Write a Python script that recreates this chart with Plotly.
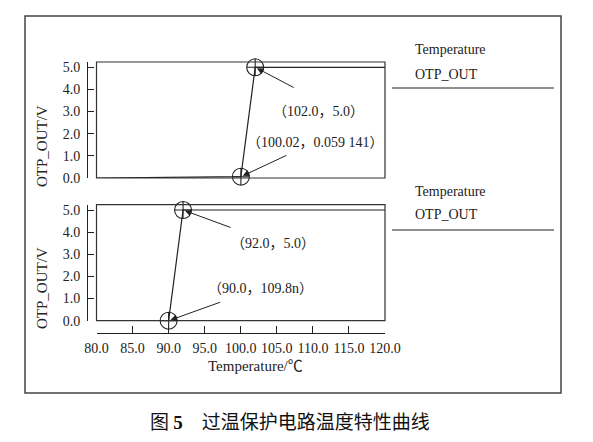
import plotly.graph_objects as go

# curve data
temp_top = [80.0, 100.02, 102.0, 120.0]
otp_top = [0.0, 0.059141, 5.0, 5.0]
temp_bot = [80.0, 90.0, 92.0, 120.0]
otp_bot = [0.0, 109.8e-9, 5.0, 5.0]

# marked points (index into the arrays above) and their labels
mark_idx = [1, 2]
labels_top = ["（100.02，0.059 141）", "（102.0，5.0）"]
labels_bot = ["（90.0，109.8n）", "（92.0，5.0）"]

x_ticks = [80, 85, 90, 95, 100, 105, 110, 115, 120]
y_ticks = [0, 1, 2, 3, 4, 5]

# the page body adds an 8px margin around the figure
OFF = 8
W, H = 593 - 2 * OFF, 442 - 2 * OFF
SERIF = "Liberation Serif"
LABEL_FONT = "'Liberation Serif', 'Noto Sans CJK SC'"
INK = "#222222"


def px_x(p):
    return (p - OFF) / W


def px_y(p):
    return 1 - (p - OFF) / H


fig = go.Figure()

for xs, ys, xa, ya in [(temp_top, otp_top, "x", "y"), (temp_bot, otp_bot, "x2", "y2")]:
    fig.add_trace(go.Scatter(x=xs, y=ys, mode="lines", xaxis=xa, yaxis=ya,
                             line=dict(color=INK, width=1.2), showlegend=False,
                             cliponaxis=False, hoverinfo="skip"))
    fig.add_trace(go.Scatter(x=[xs[i] for i in mark_idx], y=[ys[i] for i in mark_idx],
                             mode="markers", xaxis=xa, yaxis=ya, showlegend=False,
                             cliponaxis=False,
                             marker=dict(symbol="circle-cross-open", size=17,
                                         color=INK, line=dict(width=1.1))))

x_dom = [px_x(96.5), px_x(385)]
axis_common = dict(showgrid=False, zeroline=False, color=INK, automargin=False,
                   tickfont=dict(family=SERIF, size=14, color=INK))

fig.update_layout(
    width=W, height=H,
    margin=dict(l=0, r=0, t=0, b=0, pad=0),
    paper_bgcolor="white", plot_bgcolor="white",
    xaxis=dict(domain=x_dom, range=[80, 120], visible=False, anchor="y", automargin=False),
    yaxis=dict(domain=[px_y(178), px_y(62)], range=[0, 5.24], anchor="free",
               position=px_x(87), showline=True, linecolor=INK, linewidth=1,
               ticks="inside", ticklen=6, tickcolor=INK, tickvals=y_ticks,
               ticktext=[f"{v:.1f}" for v in y_ticks], ticklabelstandoff=4,
               **axis_common),
    xaxis2=dict(domain=x_dom, range=[80, 120], anchor="free", position=px_y(333),
                showline=True, linecolor=INK, linewidth=1, ticks="inside", ticklen=7,
                tickcolor=INK, tickvals=x_ticks, ticktext=[f"{v:.1f}" for v in x_ticks],
                ticklabelstandoff=2, **axis_common),
    yaxis2=dict(domain=[px_y(320.7), px_y(204.7)], range=[0, 5.24], anchor="free",
                position=px_x(87), showline=True, linecolor=INK, linewidth=1,
                ticks="inside", ticklen=6, tickcolor=INK, tickvals=y_ticks,
                ticktext=[f"{v:.1f}" for v in y_ticks], ticklabelstandoff=4,
                **axis_common),
)

shapes = []
# plot boxes
for xr, yr in [("x", "y"), ("x2", "y2")]:
    shapes.append(dict(type="rect", xref=xr + " domain", yref=yr + " domain",
                       x0=0, x1=1, y0=0, y1=1, line=dict(color="#333333", width=1.2)))
# outer frame
shapes.append(dict(type="rect", xref="paper", yref="paper", x0=px_x(25), x1=px_x(561),
                   y0=px_y(393), y1=px_y(16), line=dict(color="#444444", width=1.5)))
# legend lines
for ly in [88, 230]:
    shapes.append(dict(type="line", xref="paper", yref="paper", x0=px_x(392), x1=px_x(554),
                       y0=px_y(ly), y1=px_y(ly), line=dict(color=INK, width=1.2)))
fig.update_layout(shapes=shapes)

ann = []
text_font = dict(family=LABEL_FONT, size=14, color=INK)

# arrows (pixel offsets of tail) and label offsets
arrow_off = {("top", 2): (40, 21), ("top", 1): (47, -22),
             ("bot", 2): (49, 18), ("bot", 1): (53, -19)}
label_off = {("top", 2): (63, -44), ("top", 1): (75, 34),
             ("bot", 2): (90, -33), ("bot", 1): (92, 32)}

for key, xs, ys, labels, xa, ya in [("top", temp_top, otp_top, labels_top, "x", "y"),
                                    ("bot", temp_bot, otp_bot, labels_bot, "x2", "y2")]:
    for i, lab in zip(mark_idx, labels):
        ax_, ay_ = arrow_off[(key, i)]
        ann.append(dict(x=xs[i], y=ys[i], xref=xa, yref=ya, text="", showarrow=True,
                        ax=ax_, ay=ay_, arrowhead=2, arrowsize=1.3, arrowwidth=1,
                        arrowcolor=INK, standoff=2))
        dx, dy = label_off[(key, i)]
        ann.append(dict(x=xs[i], y=ys[i], xref=xa, yref=ya, text=lab, showarrow=False,
                        xanchor="center", yanchor="middle",
                        xshift=dx, yshift=dy, font=text_font))

# axis titles
for cy in [146, 288]:
    ann.append(dict(x=px_x(42), y=px_y(cy), xref="paper", yref="paper", text="OTP_OUT/V",
                    textangle=-90, showarrow=False, xanchor="center", yanchor="middle",
                    font=dict(family=SERIF, size=15, color=INK)))
ann.append(dict(x=px_x(255), y=px_y(366), xref="paper", yref="paper", text="Temperature/℃",
                showarrow=False, xanchor="center", yanchor="middle",
                font=dict(family=LABEL_FONT, size=15, color=INK)))

# legend texts
for ty, name in [(50, "Temperature"), (75, "OTP_OUT"), (191, "Temperature"), (214, "OTP_OUT")]:
    ann.append(dict(x=px_x(413), y=px_y(ty), xref="paper", yref="paper", text=name,
                    xanchor="left", yanchor="middle", showarrow=False,
                    font=dict(family=SERIF, size=14, color=INK)))

# caption
ann.append(dict(x=px_x(290), y=px_y(420), xref="paper", yref="paper",
                text="图 <span style=\"font-family:'Liberation Serif'\"><b>5</b></span>　过温保护电路温度特性曲线",
                showarrow=False, xanchor="center", yanchor="middle",
                font=dict(family="Noto Sans CJK SC", size=19, color="#111111")))

fig.update_layout(annotations=ann)

fig.write_html("out.html")
